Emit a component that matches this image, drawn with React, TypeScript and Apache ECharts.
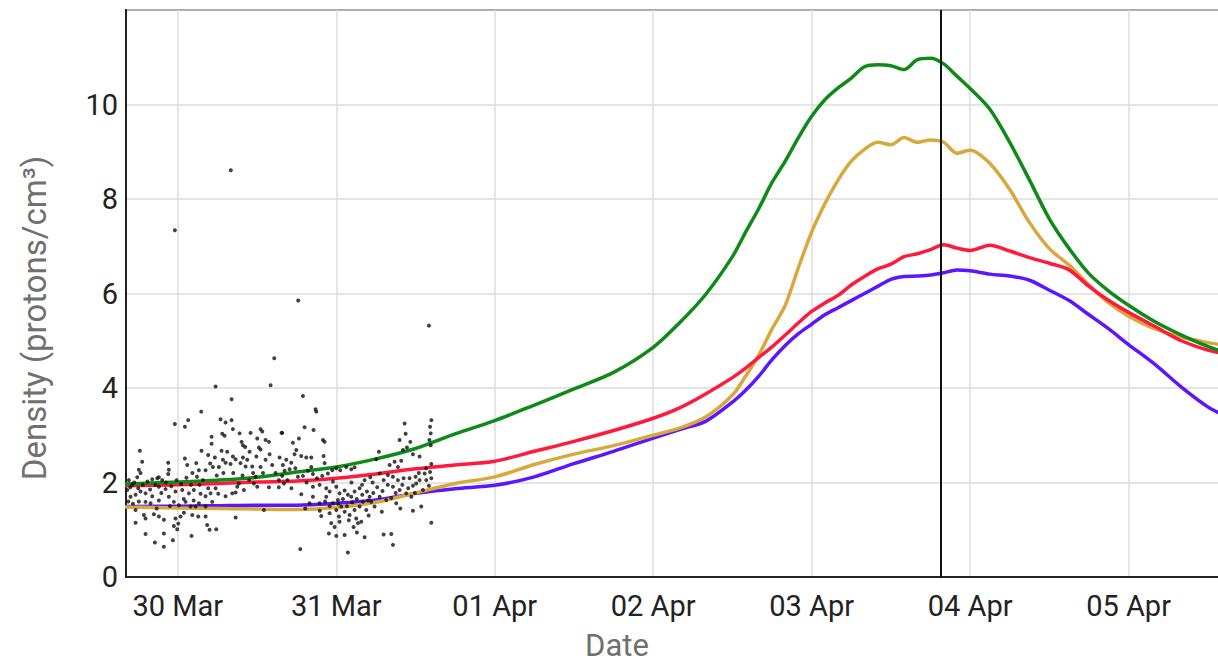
import React, { useEffect, useRef } from "react";
import * as echarts from "echarts";

// Hours relative to 30 Mar 00:00 UTC
const BASE = Date.UTC(2025, 2, 30, 0, 0, 0);
const HOUR = 3600 * 1000;
const X_MIN_HOURS = -7.85;
const X_MAX_HOURS = 158;
const NOW_HOURS = 115.55;

const yTicks = [0, 2, 4, 6, 8, 10, 12];
const monthNames = ["Jan", "Feb", "Mar", "Apr", "May", "Jun", "Jul", "Aug", "Sep", "Oct", "Nov", "Dec"];

const lineHours = [
  -8, -4, 0, 6, 12, 18, 24, 30, 36, 42, 48, 54, 60, 66, 72, 76, 80, 84, 86, 88, 90, 92, 94, 96, 98, 100,
  102, 104, 106, 108, 110, 112, 114, 116, 118, 120, 123, 126, 129, 132, 135, 138, 141, 144, 148, 152, 156, 158,
];

const greenValues = [
  1.97, 1.99, 2.01, 2.05, 2.11, 2.22, 2.33, 2.5, 2.72, 3.03, 3.31, 3.64, 3.98, 4.33, 4.86, 5.38, 5.99, 6.78,
  7.3, 7.8, 8.35, 8.8, 9.3, 9.75, 10.1, 10.35, 10.56, 10.8, 10.84, 10.82, 10.74, 10.95, 10.98, 10.86, 10.6,
  10.34, 9.9, 9.2, 8.4, 7.58, 6.95, 6.42, 6.05, 5.75, 5.4, 5.12, 4.88, 4.78,
];

const goldValues = [
  1.48, 1.47, 1.46, 1.45, 1.44, 1.43, 1.47, 1.58, 1.78, 1.98, 2.12, 2.38, 2.6, 2.78, 3.0, 3.15, 3.39, 3.85,
  4.25, 4.7, 5.25, 5.75, 6.55, 7.3, 7.9, 8.4, 8.8, 9.05, 9.2, 9.15, 9.3, 9.2, 9.25, 9.2, 8.97, 9.03, 8.75,
  8.2, 7.5, 6.95, 6.6, 6.18, 5.8, 5.52, 5.25, 5.08, 4.96, 4.92,
];

const redValues = [
  1.93, 1.94, 1.95, 1.98, 2.01, 2.03, 2.09, 2.18, 2.29, 2.37, 2.45, 2.66, 2.87, 3.1, 3.36, 3.58, 3.88, 4.22,
  4.42, 4.65, 4.87, 5.12, 5.38, 5.62, 5.8, 5.96, 6.18, 6.36, 6.52, 6.62, 6.78, 6.84, 6.93, 7.03, 6.96, 6.91,
  7.02, 6.9, 6.76, 6.64, 6.5, 6.15, 5.85, 5.6, 5.3, 5.0, 4.8, 4.74,
];

const purpleValues = [
  1.49, 1.5, 1.5, 1.51, 1.52, 1.52, 1.56, 1.63, 1.77, 1.87, 1.94, 2.12, 2.4, 2.66, 2.94, 3.12, 3.3, 3.7,
  3.95, 4.25, 4.6, 4.9, 5.15, 5.35, 5.55, 5.7, 5.85, 6.0, 6.15, 6.3, 6.36, 6.37, 6.39, 6.44, 6.5, 6.48,
  6.41, 6.37, 6.28, 6.07, 5.85, 5.55, 5.25, 4.92, 4.5, 4.02, 3.6, 3.45,
];

// Observed density: [hours since 30 Mar 00:00, protons/cm3]
const observations: [number, number][] = [
  [5.72, 4.03], [14.05, 4.06], [8.14, 3.76], [3.54, 3.5], [-0.45, 3.24], [1.57, 3.32], [1.07, 3.18],
  [6.47, 3.34], [7.23, 3.27], [8.14, 3.32], [8.34, 3.13], [6.73, 3.03], [7.08, 2.99], [9.35, 3.04],
  [11.02, 3.05], [12.53, 3.13], [12.79, 3.08], [12.03, 2.93], [13.29, 2.9], [13.8, 2.86], [15.71, 3.05],
  [5.11, 2.97], [5.11, 2.82], [9.65, 2.86], [9.86, 2.79], [-5.75, 2.67], [3.59, 2.67], [4.6, 2.58],
  [5.61, 2.53], [6.62, 2.67], [7.48, 2.65], [10.87, 2.65], [12.28, 2.74], [12.53, 2.7], [9.86, 2.53],
  [10.51, 2.48], [6.83, 2.48], [7.23, 2.42], [7.99, 2.39], [8.34, 2.55], [8.75, 2.49], [9.5, 2.41],
  [10.26, 2.34], [11.27, 2.34], [13.29, 2.48], [14.3, 2.37], [15.41, 2.53], [-5.4, 2.44], [-1.46, 2.42],
  [1.07, 2.51], [1.42, 2.37], [2.79, 2.41], [3.19, 2.26], [4.2, 2.26], [5.31, 2.33], [6.22, 2.33],
  [-1.36, 2.27], [-1.46, 2.18], [-2.87, 2.11], [-2.37, 2.05], [-5.9, 2.27], [-5.65, 2.2], [-6.15, 2.11],
  [-3.88, 2.07], [-3.12, 2.09], [-7.42, 2.05], [-6.91, 1.95], [-7.67, 1.84], [-7.16, 1.7], [-6.4, 1.74],
  [-5.65, 1.81], [-4.89, 1.77], [-3.88, 1.71], [-2.87, 1.91], [-1.86, 1.86], [-0.35, 1.81], [0.66, 1.84],
  [-1.36, 1.7], [-0.6, 1.59], [0.16, 1.52], [1.68, 1.77], [2.43, 1.84], [3.29, 1.95], [3.44, 1.76],
  [4.2, 1.71], [4.96, 1.77], [5.72, 1.88], [6.12, 1.76], [7.23, 1.71], [8.24, 1.77], [8.75, 1.79],
  [9.0, 1.91], [9.25, 1.98], [10.01, 1.84], [11.52, 1.98], [12.03, 1.91], [13.8, 1.9], [15.3, 1.9],
  [16.07, 1.98], [-4.89, 1.59], [-4.13, 1.56], [-2.87, 1.62], [1.17, 1.59], [1.93, 1.49], [2.69, 1.49],
  [3.19, 1.56], [5.21, 1.59], [4.2, 1.49], [13.04, 1.42], [-6.4, 1.42], [-5.14, 1.31], [-4.89, 1.24],
  [-3.63, 1.33], [-2.87, 1.28], [-2.11, 1.21], [-0.35, 1.24], [0.41, 1.28], [0.92, 1.36], [-0.6, 1.08],
  [0.06, 1.13], [-0.09, 1.01], [2.18, 1.31], [3.09, 1.28], [4.2, 1.28], [4.45, 1.1], [4.81, 1.0],
  [5.82, 1.01], [8.75, 1.26], [-6.4, 1.15], [-4.89, 0.91], [-3.48, 0.73], [-2.11, 0.64], [-0.75, 0.78],
  [-2.11, 0.92], [2.08, 0.87], [15.3, 2.05], [15.8, 2.14], [11.78, 2.12], [12.53, 2.33],
  [18.95, 3.83], [20.86, 3.55], [20.97, 3.5], [15.81, 3.05], [19.2, 3.17], [20.56, 3.11], [21.98, 2.9],
  [22.23, 2.86], [17.43, 2.84], [18.34, 2.93], [17.94, 2.69], [17.68, 2.6], [18.69, 2.56], [19.45, 2.53],
  [20.21, 2.53], [16.42, 2.48], [17.18, 2.42], [15.91, 2.37], [16.17, 2.25], [16.93, 2.28], [22.08, 2.56],
  [22.23, 2.41], [18.19, 2.12], [18.95, 2.14], [19.7, 2.25], [20.21, 2.33], [20.46, 2.18], [21.07, 2.09],
  [21.87, 2.14], [22.73, 2.19], [23.39, 2.26], [24.0, 2.3], [24.6, 2.26], [25.51, 2.33], [26.27, 2.28],
  [26.77, 2.32], [20.46, 1.91], [21.47, 1.95], [22.48, 1.88], [22.99, 1.81], [23.49, 2.02], [24.0, 1.91],
  [24.5, 1.77], [24.25, 1.63], [25.26, 1.83], [25.76, 1.74], [26.27, 1.7], [26.77, 1.81], [27.53, 1.88],
  [27.93, 1.74], [28.64, 1.81], [29.05, 1.7], [28.29, 2.05], [29.15, 2.11], [30.46, 2.65], [30.06, 2.49],
  [30.56, 2.19], [31.17, 2.05], [31.82, 2.16], [32.58, 2.12], [33.34, 2.05], [34.2, 2.09], [35.1, 2.09],
  [36.01, 2.12], [36.62, 2.05], [37.38, 2.19], [32.08, 2.37], [32.83, 2.44], [33.34, 2.33], [33.84, 2.46],
  [34.35, 3.25], [34.5, 3.03], [35.21, 2.86], [33.59, 2.9], [34.1, 2.69], [34.7, 2.74], [35.61, 2.6],
  [36.62, 2.55], [38.39, 2.39], [38.4, 3.32], [38.2, 3.18], [38.3, 3.04], [38.1, 2.9], [38.3, 2.79],
  [37.63, 2.05], [38.03, 1.93], [38.39, 2.09], [35.61, 1.93], [36.11, 1.98], [37.12, 1.84], [32.58, 1.91],
  [33.59, 1.84], [34.6, 1.77], [35.36, 1.7], [30.56, 1.7], [31.57, 1.63], [32.33, 1.67], [33.08, 1.56],
  [29.3, 1.59], [29.8, 1.49], [28.54, 1.42], [23.49, 1.56], [24.0, 1.42], [24.75, 1.49], [22.99, 1.35],
  [24.4, 1.28], [25.26, 1.38], [26.02, 1.31], [26.77, 1.42], [27.53, 1.49], [28.04, 1.59], [27.02, 1.24],
  [27.28, 1.14], [26.62, 1.06], [27.78, 1.17], [23.24, 1.14], [23.74, 1.06], [24.5, 1.17], [22.88, 0.92],
  [24.0, 0.87], [25.26, 0.89], [27.12, 0.94], [28.29, 0.84], [31.17, 0.9], [32.33, 0.91], [32.58, 0.68],
  [35.61, 1.4], [36.87, 1.49], [38.39, 1.15], [25.76, 0.52], [18.54, 0.59], [19.95, 1.56], [21.72, 1.29],
  [21.47, 1.56], [20.46, 1.7], [22.48, 1.7],
  [-7.2, 1.9], [-6.6, 2.0], [-6.0, 1.88], [-5.3, 1.95], [-4.6, 2.02], [-4.2, 1.85], [-3.4, 1.95],
  [-2.5, 1.78], [-1.8, 2.0], [-1.0, 1.92], [-0.2, 2.05], [0.5, 1.97], [1.3, 2.1], [2.0, 1.95], [2.9, 2.12],
  [3.8, 2.05], [-7.5, 1.6], [-6.8, 1.55], [-5.9, 1.6], [-3.2, 1.45], [-1.2, 1.5], [0.9, 1.65], [2.4, 1.62],
  [4.6, 1.88], [5.9, 2.15], [6.9, 2.2], [8.4, 2.2], [9.8, 2.15], [10.8, 2.05], [11.4, 2.2], [12.9, 2.2],
  [14.8, 2.2], [13.9, 2.6], [11.9, 2.55], [10.2, 2.75], [4.9, 2.4], [2.2, 2.2],
  [24.3, 1.55], [25.0, 1.65], [25.6, 1.5], [26.4, 1.58], [27.1, 1.65], [28.8, 1.62], [29.6, 1.78],
  [30.2, 1.9], [31.0, 1.82], [31.8, 1.95], [33.0, 1.78], [34.0, 1.95], [34.9, 1.88], [35.9, 1.78],
  [36.5, 2.2], [37.6, 2.3], [38.2, 2.22], [23.0, 1.5], [22.3, 1.6], [21.5, 1.4], [25.9, 1.2], [28.9, 1.3],
  [30.9, 1.38], [33.7, 1.45], [26.3, 2.0], [27.9, 1.95], [29.5, 2.0], [19.5, 2.0], [17.8, 2.3],
  [16.6, 2.05], [17.2, 1.88], [18.7, 1.75], [19.3, 1.45],
  [8.03, 8.61], [-0.45, 7.34], [18.24, 5.85], [14.6, 4.63], [38.03, 5.32],
];

const toTime = (h: number) => BASE + h * HOUR;
const pad = (n: number) => (n < 10 ? "0" + n : "" + n);

export default function App() {
  const ref = useRef<HTMLDivElement>(null);

  useEffect(() => {
    if (!ref.current) return;
    const chart = echarts.init(ref.current, undefined, { renderer: "svg" });
    const mk = (vals: number[]) => lineHours.map((h, i) => [toTime(h), vals[i]]);
    const lineSeries = (name: string, color: string, vals: number[], extra: any = {}) => ({
      name,
      type: "line",
      data: mk(vals),
      showSymbol: false,
      smooth: 0.3,
      lineStyle: { color, width: 3.5 },
      itemStyle: { color },
      ...extra,
    });
    chart.setOption({
      animation: false,
      useUTC: true,
      textStyle: { fontFamily: "Roboto" },
      grid: {
        left: 126,
        right: 19,
        top: 10,
        bottom: 88,
        show: true,
        borderColor: "#222",
        borderWidth: 2,
        backgroundColor: "transparent",
      },
      xAxis: {
        type: "time",
        min: toTime(X_MIN_HOURS),
        max: toTime(X_MAX_HOURS),
        minInterval: 24 * HOUR,
        maxInterval: 24 * HOUR,
        axisLine: { show: true, lineStyle: { color: "#222", width: 2 } },
        axisTick: { show: false },
        splitLine: { show: true, lineStyle: { color: "#dcdcdc", width: 1.5 } },
        axisLabel: {
          fontSize: 29,
          color: "#222",
          margin: 14,
          fontFamily: "Roboto",
          formatter: (v: number) => {
            const d = new Date(v);
            return pad(d.getUTCDate()) + " " + monthNames[d.getUTCMonth()];
          },
        },
      },
      yAxis: {
        type: "value",
        min: yTicks[0],
        max: yTicks[yTicks.length - 1],
        interval: 2,
        axisLine: { show: true, lineStyle: { color: "#222", width: 2 } },
        axisTick: { show: false },
        splitLine: { show: true, lineStyle: { color: "#dcdcdc", width: 1.5 } },
        axisLabel: {
          fontSize: 29,
          color: "#222",
          margin: 8,
          fontFamily: "Roboto",
          showMaxLabel: false,
        },
      },
      graphic: [
        {
          type: "text",
          x: 617,
          y: 645,
          style: {
            text: "Date",
            fontSize: 31,
            fontFamily: "Roboto",
            fill: "#707070",
            textAlign: "center",
            textVerticalAlign: "middle",
          },
        },
        {
          type: "text",
          x: 34,
          y: 318,
          rotation: Math.PI / 2,
          style: {
            text: "Density (protons/cm³)",
            fontSize: 33,
            fontFamily: "Roboto",
            fill: "#707070",
            textAlign: "center",
            textVerticalAlign: "middle",
          },
        },
      ],
      series: [
        lineSeries("Model D", "#5a17ff", purpleValues),
        lineSeries("Model C", "#d8a83c", goldValues),
        lineSeries("Model B", "#ff1a3c", redValues),
        lineSeries("Model A", "#0f8a18", greenValues, {
          markLine: {
            silent: true,
            symbol: ["none", "none"],
            label: { show: false },
            lineStyle: { color: "#111", width: 2, type: "solid" },
            data: [{ xAxis: toTime(NOW_HOURS) }],
          },
        }),
        {
          name: "Observed",
          type: "scatter",
          symbolSize: 4,
          itemStyle: { color: "#111" },
          data: observations.map(([h, v]) => [toTime(h), v]),
          z: 5,
        },
      ],
    });
    return () => chart.dispose();
  }, []);

  return (
    <div style={{ position: "fixed", left: 0, top: 0, width: 1218, height: 665, overflow: "hidden", background: "#fff" }}>
      <div ref={ref} style={{ width: 1240, height: 665 }} />
    </div>
  );
}
